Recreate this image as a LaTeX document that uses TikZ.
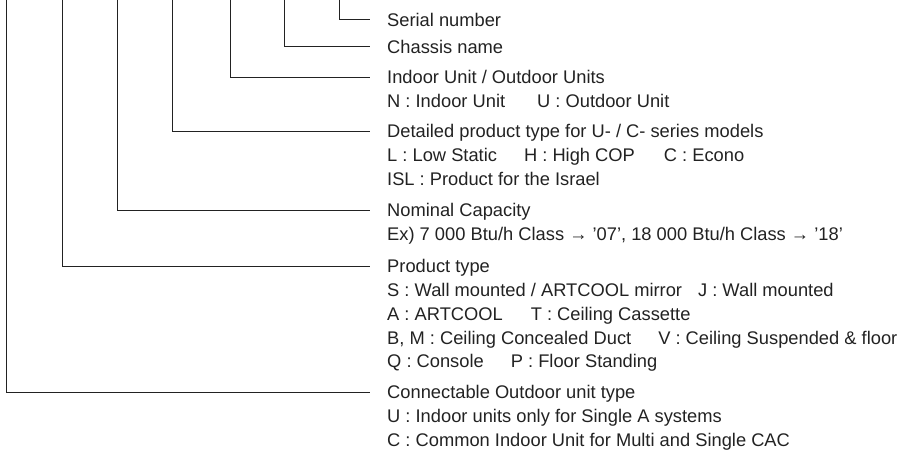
\documentclass[tikz,border=0pt]{standalone}
\usepackage{fontspec}
\setmainfont{Liberation Sans}
\usepackage{tikz}
\usetikzlibrary{positioning}
\definecolor{inkgray}{RGB}{34, 34, 34}
\tikzset{
  lead/.style={draw=inkgray, line width=1pt, shorten >=17pt},
  ttl/.style={inner sep=0pt, text height=13pt, text depth=0pt, anchor=west, text=inkgray, font=\fontsize{18.3}{23.8}\selectfont},
  sub/.style={inner sep=0pt, align=left, text=inkgray, font=\fontsize{18.3}{23.8}\selectfont}
}

\begin{document}
\begin{tikzpicture}[x=1pt, y=-1pt]
  \useasboundingbox (0,0) rectangle (912,452);

  \coordinate (c1) at (6,0);
  \coordinate (c2) at (62,0);
  \coordinate (c3) at (117,0);
  \coordinate (c4) at (172,0);
  \coordinate (c5) at (230,0);
  \coordinate (c6) at (284,0);
  \coordinate (c7) at (339,0);

  \node[ttl] (sn) at (387,20) {Serial number};
  \node[ttl] (cn) at (387,46.5) {Chassis name};
  \node[ttl] (iu) at (387,77) {Indoor Unit / Outdoor Units};
  \node[sub, below right=7.14pt and 0pt of iu.base west] (iuinfo) {\strut N : Indoor Unit\hspace{32pt}U : Outdoor Unit};
  \node[ttl] (dt) at (387,131) {Detailed product type for U- / C- series models};
  \node[sub, below right=7.14pt and 0pt of dt.base west] (dtinfo) {\strut L : Low Static\hspace{27pt}H : High COP\hspace{29pt}C : Econo\\ISL : Product for the Israel};
  \node[ttl] (nc) at (387,210) {Nominal Capacity};
  \node[sub, below right=7.14pt and 0pt of nc.base west] (ncinfo) {\strut Ex) 7 000 Btu/h Class → '07', 18 000 Btu/h Class → '18'};
  \node[ttl] (pt) at (387,266) {Product type};
  \node[sub, below right=7.14pt and 0pt of pt.base west] (ptinfo) {\strut S : Wall mounted / ARTCOOL mirror\hspace{16pt}J : Wall mounted\\
    A : ARTCOOL\hspace{28pt}T : Ceiling Cassette\\
    B, M : Ceiling Concealed Duct\hspace{27pt}V : Ceiling Suspended \& floor\\
    Q : Console\hspace{27pt}P : Floor Standing};
  \node[ttl] (co) at (387,392) {Connectable Outdoor unit type};
  \node[sub, below right=7.14pt and 0pt of co.base west] (coinfo) {\strut U : Indoor units only for Single A systems\\
    C : Common Indoor Unit for Multi and Single CAC};

  \draw[lead] (c7) |- (sn.west);
  \draw[lead] (c6) |- (cn.west);
  \draw[lead] (c5) |- (iu.west);
  \draw[lead] (c4) |- (dt.west);
  \draw[lead] (c3) |- (nc.west);
  \draw[lead] (c2) |- (pt.west);
  \draw[lead] (c1) |- (co.west);
\end{tikzpicture}
\end{document}
